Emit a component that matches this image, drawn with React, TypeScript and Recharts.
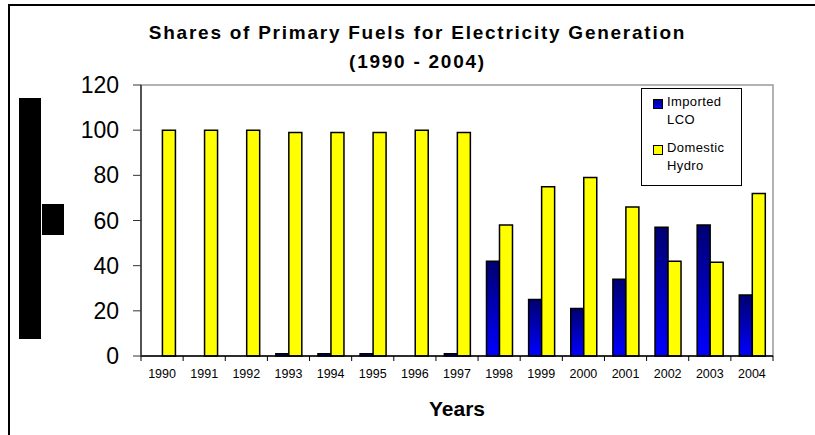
import React from "react";
import { BarChart, Bar, XAxis, YAxis, ReferenceArea } from "recharts";

const years = ["1990","1991","1992","1993","1994","1995","1996","1997","1998","1999","2000","2001","2002","2003","2004"];
const importedLCO = [0,0,0,1,1,1,0,1,42,25,21,34,57,58,27];
const domesticHydro = [100,100,100,99,99,99,100,99,58,75,79,66,42,41.5,72];
const yTicks = [0,20,40,60,80,100,120];

const data = years.map((y, i) => ({ year: y, lco: importedLCO[i], hydro: domesticHydro[i] }));

const FONT = "'Liberation Sans', Arial, Helvetica, sans-serif";

const XTick = (props: any) => {
  const { x, y, payload, index, width } = props;
  const band = width / years.length;
  return (
    <g>
      <line x1={x - band / 2} y1={y - 8} x2={x - band / 2} y2={y - 3} stroke="#000" strokeWidth={1} />
      {index === years.length - 1 && (
        <line x1={x + band / 2} y1={y - 8} x2={x + band / 2} y2={y - 3} stroke="#000" strokeWidth={1} />
      )}
      <text x={x} y={y + 14} textAnchor="middle" fontSize={12.5} fontFamily={FONT} fill="#000">
        {payload.value}
      </text>
    </g>
  );
};

const LegendBox = () => (
  <div style={{ width: 99, height: 96, border: "1px solid #000", background: "#fff", fontFamily: FONT, fontSize: 13, lineHeight: "18px", color: "#000", boxSizing: "content-box" }}>
    <div style={{ display: "flex", marginTop: 4, marginLeft: 11 }}>
      <div style={{ width: 8, height: 8, border: "1px solid #000", marginTop: 6, marginRight: 4, background: "linear-gradient(#000080, #0000ff)" }} />
      <div style={{ letterSpacing: 0.4 }}>Imported<br />LCO</div>
    </div>
    <div style={{ display: "flex", marginTop: 10, marginLeft: 11 }}>
      <div style={{ width: 8, height: 8, border: "1px solid #000", marginTop: 6, marginRight: 4, background: "#ffff00" }} />
      <div style={{ letterSpacing: 0.4 }}>Domestic<br />Hydro</div>
    </div>
  </div>
);

export default function App() {
  return (
    <div style={{ position: "absolute", left: 8, top: 4, width: 807, height: 431, background: "#fff" }}>
      <div style={{ position: "absolute", left: 0, top: 0, width: 807, height: 431, borderTop: "2px solid #000", borderLeft: "2px solid #000", boxSizing: "border-box" }} />
      <div style={{ position: "absolute", left: 2, width: 815, top: 14, textAlign: "center", fontFamily: FONT, fontWeight: "bold", fontSize: 19, letterSpacing: 1.75, lineHeight: "29px" }}>
        Shares of Primary Fuels for Electricity Generation<br />(1990 - 2004)
      </div>
      <div style={{ position: "absolute", left: 11, top: 94, width: 22, height: 241, background: "#000" }} />
      <div style={{ position: "absolute", left: 34, top: 200, width: 22, height: 31, background: "#000" }} />
      <div style={{ position: "absolute", left: 0, width: 898, top: 393, textAlign: "center", fontFamily: FONT, fontWeight: "bold", fontSize: 21 }}>
        Years
      </div>
      <div style={{ position: "absolute", left: 0, top: 0 }}>
        <BarChart
          width={807}
          height={431}
          data={data}
          margin={{ top: 81, right: 42, left: 73, bottom: 49 }}
          barCategoryGap="20%"
          barGap={0}
        >
          <defs>
            <linearGradient id="lcoGrad" x1="0" y1="0" x2="0" y2="1">
              <stop offset="0%" stopColor="#000070" />
              <stop offset="100%" stopColor="#0000ff" />
            </linearGradient>
          </defs>
          <ReferenceArea y1={0} y2={120} fill="none" stroke="#999" strokeWidth={1.5} ifOverflow="visible" />
          <XAxis
            dataKey="year"
            axisLine={{ stroke: "#000", strokeWidth: 1.5 }}
            tickLine={false}
            tick={<XTick />}
            height={30}
            interval={0}
          />
          <YAxis
            domain={[0, 120]}
            ticks={yTicks}
            width={60}
            axisLine={{ stroke: "#333", strokeWidth: 1.5 }}
            tickLine={{ stroke: "#333" }}
            tickSize={8}
            tickMargin={14}
            tick={{ fontSize: 23, fontFamily: FONT, fill: "#000" }}
            interval={0}
          />
          <Bar dataKey="lco" name="Imported LCO" fill="url(#lcoGrad)" stroke="#000" strokeWidth={1.5} isAnimationActive={false} />
          <Bar dataKey="hydro" name="Domestic Hydro" fill="#ffff00" stroke="#000" strokeWidth={1.5} isAnimationActive={false} />
        </BarChart>
      </div>
      <div style={{ position: "absolute", left: 633, top: 84 }}>
        <LegendBox />
      </div>
    </div>
  );
}
